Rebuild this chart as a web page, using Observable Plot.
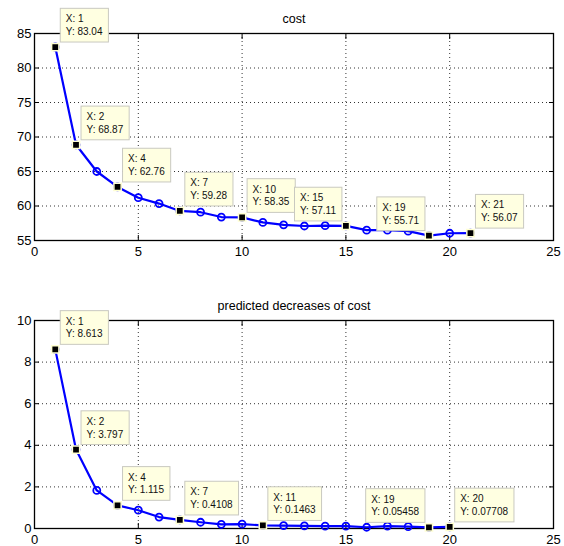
<!DOCTYPE html>
<html><head><meta charset="utf-8">
<script src="https://cdn.jsdelivr.net/npm/d3@7"></script>
<script src="https://cdn.jsdelivr.net/npm/@observablehq/plot@0.6"></script>
<style>body{margin:0;background:#fff} #c svg{display:block}</style>
</head><body><div id="c"></div>
<script>
// ---- data ----
const costX = [1,2,3,4,5,6,7,8,9,10,11,12,13,14,15,16,17,18,19,20,21];
const costY = [83.04,68.87,65.0,62.76,61.2,60.35,59.28,59.1,58.4,58.35,57.62,57.27,57.1,57.15,57.11,56.5,56.5,56.35,55.71,56.05,56.07];
const decX = [1,2,3,4,5,6,7,8,9,10,11,12,13,14,15,16,17,18,19,20];
const decY = [8.613,3.797,1.83,1.115,0.88,0.55,0.4108,0.3,0.2,0.21,0.1463,0.14,0.13,0.11,0.11,0.06,0.11,0.09,0.05458,0.07708];
const costTips = [1,2,4,7,10,15,19,21];
const costTipsLeft = [15,19];
const decTips = [1,2,4,7,11,19,20];
const decTipsLeft = [19];
const xTicks = [0,5,10,15,20,25];
const costYTicks = [55,60,65,70,75,80,85];
const decYTicks = [0,2,4,6,8,10];
const titles = ["cost", "predicted decreases of cost"];

const fmt = d3.format(".4~g");

function makeChart({xs, ys, tips, tipsLeft, yTicks, title, marginTop, marginBottom}) {
  const data = xs.map((x, i) => ({x, y: ys[i]}));
  const tipData = data.filter(d => tips.includes(d.x))
    .map(d => ({...d, left: tipsLeft.includes(d.x), label: `X: ${d.x}\nY: ${fmt(d.y)}`}));
  const gridStyle = {stroke: "#000", strokeOpacity: 0.8, strokeDasharray: "1,3", strokeWidth: 1};
  const chart = Plot.plot({
    width: 564, height: 273,
    marginTop, marginBottom, marginLeft: 34, marginRight: 11,
    x: {domain: [xTicks[0], xTicks[xTicks.length - 1]]},
    y: {domain: [yTicks[0], yTicks[yTicks.length - 1]]},
    style: {fontFamily: "'Liberation Sans', Arial, sans-serif", fontSize: "13px", background: "white", overflow: "visible", color: "#000"},
    marks: [
      Plot.gridX({ticks: xTicks.slice(1, -1), ...gridStyle}),
      Plot.gridY({ticks: yTicks.slice(1, -1), ...gridStyle}),
      Plot.axisX({ticks: xTicks, anchor: "bottom", tickSize: -5, tickPadding: 11, label: null}),
      Plot.axisX({ticks: xTicks, anchor: "top", tickSize: -5, tickFormat: () => "", label: null}),
      Plot.axisY({ticks: yTicks, anchor: "left", tickSize: -5, tickPadding: 8, label: null}),
      Plot.axisY({ticks: yTicks, anchor: "right", tickSize: -5, tickFormat: () => "", label: null}),
      Plot.frame({stroke: "#000", strokeWidth: 1.3}),
      Plot.line(data, {x: "x", y: "y", stroke: "#0000ff", strokeWidth: 2.2}),
      Plot.dot(data, {x: "x", y: "y", r: 3.5, stroke: "#0000ff", strokeWidth: 1.8, fill: "none"}),
      Plot.text(tipData, {x: "x", y: "y", text: "label", ariaDescription: "datatip", textAnchor: "start", lineAnchor: "top", fontSize: 10, lineHeight: 1.27, fill: "#111"}),
      Plot.dot(tipData, {x: "x", y: "y", symbol: "square", r: 4.1, fill: "#000", stroke: "#ffffd2", strokeWidth: 1.5}),
      Plot.text([title], {frameAnchor: "top", dy: -11, lineAnchor: "bottom", text: d => d, fontSize: 12.5, fill: "#000"})
    ]
  });
  document.getElementById("c").append(chart);
  const sx = chart.scale("x"), sy = chart.scale("y");
  d3.select(chart).selectAll('g[aria-description="datatip"] text').each(function(dd, j) {
    let i = d3.select(this).datum();
    if (typeof i !== "number") i = j;
    const d = tipData[i];
    const px = sx.apply(d.x), py = sy.apply(d.y);
    const b = this.getBBox();
    const W = b.width + 11, H = b.height + 10;
    const rx = d.left ? px - 4 - W : px + 5;
    const ry = py - 5 - H;
    const tx = rx + 5.5 - b.x, ty = ry + 5 - b.y;
    this.setAttribute("transform", `translate(${tx},${ty})`);
    const node = this;
    d3.select(this.parentNode).insert("rect", () => node)
      .attr("x", rx).attr("y", ry).attr("width", W).attr("height", H)
      .attr("fill", "#ffffe1").attr("stroke", "#c9c9c0").attr("stroke-width", 1);
  });
  return chart;
}

makeChart({xs: costX, ys: costY, tips: costTips, tipsLeft: costTipsLeft, yTicks: costYTicks, title: titles[0], marginTop: 33, marginBottom: 33});
makeChart({xs: decX, ys: decY, tips: decTips, tipsLeft: decTipsLeft, yTicks: decYTicks, title: titles[1], marginTop: 47, marginBottom: 18});
</script>
</body></html>
